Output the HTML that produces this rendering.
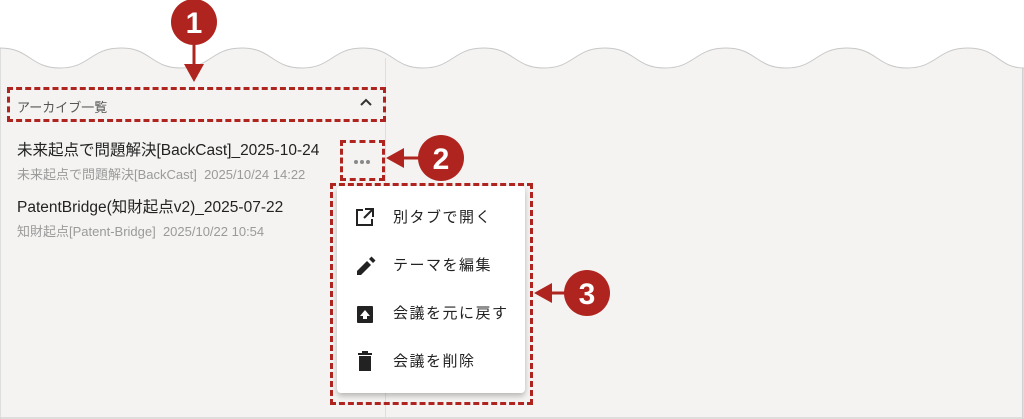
<!DOCTYPE html>
<html><head><meta charset="utf-8"><style>
*{margin:0;padding:0;box-sizing:border-box}
body{width:1024px;height:419px;background:#fff;position:relative;overflow:hidden;font-family:"Liberation Sans","Noto Sans CJK JP",sans-serif}
.abs{position:absolute}
.dash{position:absolute;border:3px dashed #b0241f}
.t{position:absolute;white-space:nowrap}
.mi{position:absolute;left:393px;font-size:15px;color:#222;letter-spacing:1.5px}
</style></head><body>
<svg class="abs" style="left:0;top:0" width="1024" height="419">
<path d="M0 48 C30 48 30 68 60 68 C90 68 90 48 121 48 C151 48 151 68 181 68 C211 68 211 48 242 48 C272 48 272 68 302 68 C332 68 332 48 363 48 C393 48 393 68 423 68 C453 68 453 48 484 48 C514 48 514 68 544 68 C574 68 574 48 605 48 C635 48 635 68 665 68 C695 68 695 48 726 48 C756 48 756 68 786 68 C816 68 816 48 847 48 C877 48 877 68 907 68 C937 68 937 48 968 48 C998 48 998 68 1024 68 L1024 419 L0 419 Z" fill="#f4f3f1" stroke="#c8c8c8" stroke-width="1"/>
<line x1="385.5" y1="58" x2="385.5" y2="419" stroke="#e0dedb"/>
<line x1="1022.5" y1="68" x2="1022.5" y2="419" stroke="#d0d0d0"/>
<line x1="0" y1="417.5" x2="1024" y2="417.5" stroke="#dddddd"/>
<circle cx="194" cy="22" r="23" fill="#b0241f"/>
<text x="194" y="33" text-anchor="middle" fill="#fff" font-size="30" font-weight="bold" font-family="Liberation Sans">1</text>
<line x1="194" y1="40" x2="194" y2="68" stroke="#b0241f" stroke-width="3"/>
<polygon points="184,64 204,64 194,82" fill="#b0241f"/>
<circle cx="441" cy="158" r="23" fill="#b0241f"/>
<text x="441" y="169" text-anchor="middle" fill="#fff" font-size="30" font-weight="bold" font-family="Liberation Sans">2</text>
<line x1="400" y1="158" x2="420" y2="158" stroke="#b0241f" stroke-width="3"/>
<polygon points="404,148 404,168 386,158" fill="#b0241f"/>
<circle cx="587" cy="293" r="23" fill="#b0241f"/>
<text x="587" y="304" text-anchor="middle" fill="#fff" font-size="30" font-weight="bold" font-family="Liberation Sans">3</text>
<line x1="548" y1="293" x2="566" y2="293" stroke="#b0241f" stroke-width="3"/>
<polygon points="552,283 552,303 534,293" fill="#b0241f"/>
</svg>
<div class="dash" style="left:7px;top:87px;width:379px;height:35px"></div>
<div class="t" style="left:17px;top:97px;font-size:13px;color:#555">アーカイブ一覧</div>
<svg class="abs" style="left:359px;top:97px" width="14" height="10"><polyline points="2,8 7,3 12,8" fill="none" stroke="#333" stroke-width="2"/></svg>
<div class="t" style="left:17px;top:138px;font-size:15.5px;color:#222;width:304px;overflow:hidden">未来起点で問題解決[BackCast]_2025-10-24</div>
<div class="t" style="left:17px;top:164px;font-size:13px;color:#9a9a9a;width:304px;overflow:hidden">未来起点で問題解決[BackCast]&nbsp;&nbsp;2025/10/24 14:22</div>
<div class="t" style="left:17px;top:195px;font-size:15.5px;color:#222">PatentBridge(知財起点v2)_2025-07-22</div>
<div class="t" style="left:17px;top:221px;font-size:13px;color:#9a9a9a">知財起点[Patent-Bridge]&nbsp;&nbsp;2025/10/22 10:54</div>
<div class="dash" style="left:340px;top:140px;width:45px;height:41px"></div>
<svg class="abs" style="left:352px;top:159px" width="22" height="6"><circle cx="4" cy="3" r="2" fill="#888"/><circle cx="10" cy="3" r="2" fill="#888"/><circle cx="16" cy="3" r="2" fill="#888"/></svg>
<div class="abs" style="left:337px;top:186px;width:188px;height:207px;background:#fff;border-radius:4px;box-shadow:0 3px 6px rgba(0,0,0,.25)"></div>
<div class="dash" style="left:330px;top:183px;width:203px;height:222px"></div>
<svg class="abs" style="left:355px;top:208px" width="22" height="180">
<g fill="none" stroke="#222" stroke-width="2"><path d="M8 2H2V17H17V11"/><path d="M10 1H18V9M18 1L9 10"/></g>
<path d="M2 63V67H6L16 57L12 53Z M14 51L16.5 48.5L20.5 52.5L18 55Z" fill="#222"/>
<rect x="2" y="98" width="16" height="17" rx="1" fill="#222"/><polygon points="10,102 15,108 12,108 12,111 8,111 8,108 5,108" fill="#fff"/>
<rect x="3" y="145" width="14" height="2" fill="#222"/><rect x="7" y="143" width="6" height="2" fill="#222"/><rect x="4" y="148" width="12" height="15" fill="#222"/>
</svg>
<div class="mi" style="top:206px">別タブで開く</div>
<div class="mi" style="top:254px">テーマを編集</div>
<div class="mi" style="top:302px">会議を元に戻す</div>
<div class="mi" style="top:350px">会議を削除</div>
</body></html>
